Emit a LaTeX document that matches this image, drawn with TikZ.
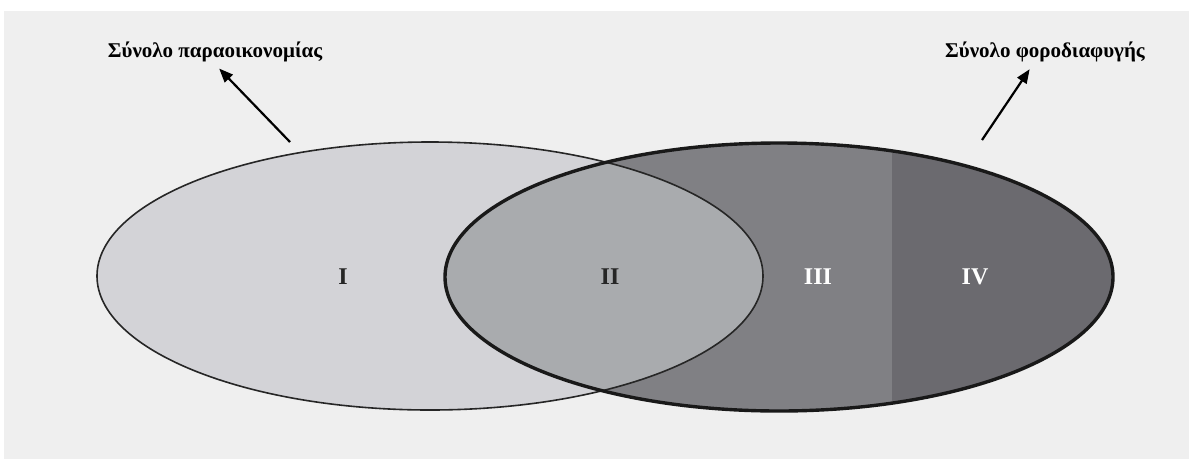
\documentclass[tikz,border=0pt]{standalone}
\usepackage{fontspec}
\setmainfont{Liberation Serif}
\usetikzlibrary{arrows.meta}
\definecolor{panel}{HTML}{EFEFEF}
\definecolor{regI}{HTML}{D3D3D7}
\definecolor{regII}{HTML}{A9ABAE}
\definecolor{regIII}{HTML}{808084}
\definecolor{regIV}{HTML}{6B6A6F}
\tikzset{
  setlabel/.style={font=\bfseries\fontsize{21}{24}\selectfont, inner sep=2pt},
  numlabel/.style={font=\bfseries\fontsize{24}{26}\selectfont, inner sep=0pt},
  pointer/.style={line width=2.2pt, -{Triangle[length=14pt,width=11pt]}, shorten >=6pt},
}
\begin{document}
\begin{tikzpicture}[x=1pt,y=-1pt]
\useasboundingbox (0,0) rectangle (1189,459);
\fill[white] (0,0) rectangle (1189,459);
\fill[panel] (4,11) rectangle (1189,459);
% left set
\fill[regI] (430,276) ellipse [x radius=333, y radius=134];
% right set
\fill[regIII] (779,277) ellipse [x radius=334, y radius=134];
\begin{scope}
  \clip (779,277) ellipse [x radius=334, y radius=134];
  \fill[regIV] (892,100) rectangle (1189,450);
  \fill[regII] (430,276) ellipse [x radius=333, y radius=134];
\end{scope}
\draw[line width=1.6pt, black!85] (430,276) ellipse [x radius=333, y radius=134];
\draw[line width=3.4pt, black!90] (779,277) ellipse [x radius=334, y radius=134];
% region labels
\node[numlabel, text=black!85] (nI) at (343,277) {I};
\node[numlabel, text=black!85] (nII) at (610,277) {II};
\node[numlabel, text=white] (nIII) at (818,277) {III};
\node[numlabel, text=white] (nIV) at (975,277) {IV};
% set labels
\node[setlabel] (lab1) at (215,52) {Σύνολο παραοικονομίας};
\node[setlabel] (lab2) at (1045,52) {Σύνολο φοροδιαφυγής};
\coordinate (t1) at (290,142);
\coordinate (t2) at (982,140);
\draw[pointer] (t1) -- (lab1.south);
\draw[pointer] (t2) -- ([xshift=-12pt]lab2.south);
\end{tikzpicture}
\end{document}
